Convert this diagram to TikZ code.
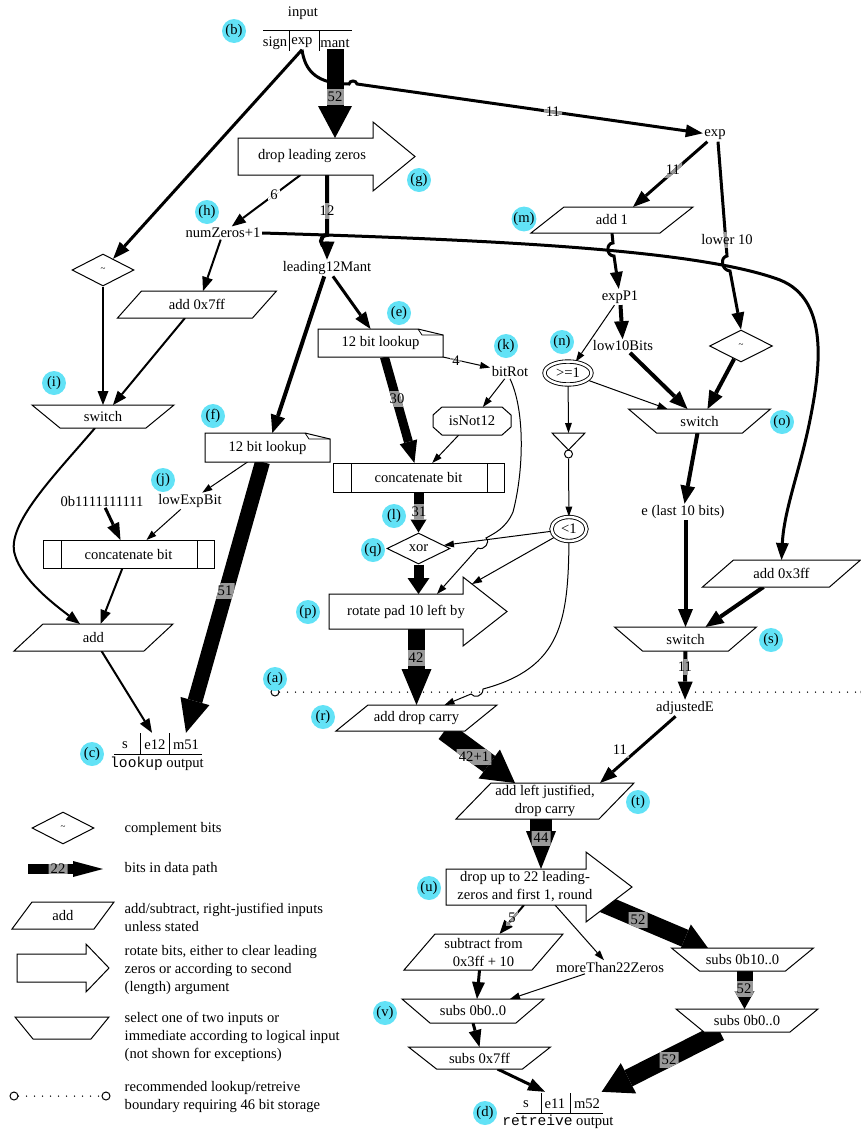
\documentclass[tikz,border=0pt]{standalone}
\usepackage{fontspec}
\setmainfont{Liberation Serif}
\setmonofont{Liberation Mono}
\usetikzlibrary{arrows.meta,shapes.geometric,calc}
\pgfdeclarelayer{edges}\pgfdeclarelayer{labels}\pgfdeclarelayer{shapes}
\pgfsetlayers{edges,labels,shapes,main}
\definecolor{lcyan}{RGB}{98,226,246}
\definecolor{labgray}{RGB}{153,153,153}
\newcommand\mfs{\fontsize{14.6pt}{18pt}\selectfont}
\newcommand\tfs{\fontsize{9pt}{10pt}\selectfont}
\tikzset{
 txt/.style={inner sep=1.5pt},
 shp/.style={inner sep=0pt, outer sep=0pt},
 outl/.style={line width=1pt, line join=miter},
 lc/.style={circle, fill=lcyan, inner sep=0pt, minimum size=24pt},
 lbl/.style={inner sep=2pt},
 smallc/.style={circle, draw, line width=1pt, fill=white, inner sep=0pt, minimum size=8pt},
 dotsl/.style={line width=1.5pt, line cap=round, dash pattern=on 0pt off 8pt},
 e1/.style={line width=1pt, -{Triangle[length=10pt,width=7pt,line width=0pt]}},
 e2/.style={line width=2pt, -{Triangle[length=14pt,width=11pt,line width=0pt]}},
 e3/.style={line width=3pt, -{Triangle[length=17pt,width=13pt,line width=0pt]}},
 e4/.style={line width=4pt, -{Triangle[length=18pt,width=15pt,line width=0pt]}},
 fat/.style n args={3}{line width=#1, -{Triangle[length=#2,width=#3,line width=0pt]}},
}
% edge with a label: [label colour]{style}{path}{label position}{text}
\newcommand\ledge[5][labgray]{%
 \begin{pgfonlayer}{edges}\draw[#2] #3;\end{pgfonlayer}%
 \begin{pgfonlayer}{labels}%
 \node[lbl] (lbtmp) at (#4) {\phantom{#5}};%
 \begin{scope}\clip (lbtmp.south west) rectangle (lbtmp.north east);
 \draw[#2, color=#1] #3;\end{scope}%
 \node[lbl] (lbtext) at (lbtmp) {#5};%
 \end{pgfonlayer}}
\newcommand\paraout[2]{\begin{pgfonlayer}{shapes}\draw[outl,fill=white] ([xshift=-#2]#1.south west) -- ([xshift=-#2]#1.south east) -- ([xshift=#2]#1.north east) -- ([xshift=#2]#1.north west) -- cycle;\end{pgfonlayer}}
\newcommand\swout[2]{\begin{pgfonlayer}{shapes}\draw[outl,fill=white] ([xshift=-#2]#1.north west) -- ([xshift=#2]#1.north east) -- ([xshift=-#2]#1.south east) -- ([xshift=#2]#1.south west) -- cycle;\end{pgfonlayer}}
\newcommand\arrowout[3]{\begin{pgfonlayer}{shapes}\draw[outl,fill=white] (#1.north west) -- (#1.north east) -- ([yshift=#2]#1.north east) -- ([xshift=#3]#1.east) -- ([yshift=-#2]#1.south east) -- (#1.south east) -- (#1.south west) -- cycle;\end{pgfonlayer}}
\newcommand\noteout[1]{\begin{pgfonlayer}{shapes}\draw[outl,fill=white] (#1.south west) -- (#1.north west) -- ([xshift=-25pt]#1.north east) -- ([yshift=-6pt]#1.north east) -- (#1.south east) -- cycle;
 \draw[line width=0.7pt] ([xshift=-25pt]#1.north east) -- ([xshift=-21pt,yshift=-6pt]#1.north east) -- ([yshift=-6pt]#1.north east);\end{pgfonlayer}}
\newcommand\concout[1]{\begin{pgfonlayer}{shapes}\draw[outl,fill=white] (#1.south west) rectangle (#1.north east);
 \draw[outl] ([xshift=18pt]#1.south west) -- ([xshift=18pt]#1.north west);
 \draw[outl] ([xshift=-17pt]#1.south east) -- ([xshift=-17pt]#1.north east);\end{pgfonlayer}}
\newcommand\octout[1]{\begin{pgfonlayer}{shapes}\draw[outl,fill=white] ([xshift=9pt]#1.north west) -- ([xshift=-9pt]#1.north east) -- ([yshift=-8pt]#1.north east) -- ([yshift=8pt]#1.south east) -- ([xshift=-9pt]#1.south east) -- ([xshift=9pt]#1.south west) -- ([yshift=8pt]#1.south west) -- ([yshift=-8pt]#1.north west) -- cycle;\end{pgfonlayer}}
\begin{document}
\begin{tikzpicture}[x=1pt,y=-1pt,font=\mfs]
\useasboundingbox (0,0) rectangle (861,1130);
% ---------- records
\node[txt] (intitle) at (303,13) {input};
\node[txt] (insign) at (275,43) {sign};
\node[txt] (inexp) at (302,43) {exp};
\node[txt] (inmant) at (335,43) {mant};
\draw[outl] (263,30) -- (352,30) (289,30) -- (289,51) (319,30) -- (319,51);
\node[txt,minimum height=24pt] (outs) at (125,745) {s};
\node[txt,minimum height=24pt] (oute12) at (155,745) {e12};
\node[txt,minimum height=24pt] (outm51) at (186,745) {m51};
\node[txt] (outlbl) at (157,764) {\texttt{lookup} output};
\draw[outl] (114,754) -- (202,754) (140,733) -- (140,754) (169,733) -- (169,754);
\node[txt,minimum height=24pt] (routs) at (526,1104) {s};
\node[txt,minimum height=24pt] (oute11) at (555,1104) {e11};
\node[txt,minimum height=24pt] (outm52) at (587,1104) {m52};
\node[txt] (routlbl) at (558,1122) {\texttt{retreive} output};
\draw[outl] (516,1113) -- (603,1113) (541,1093) -- (541,1113) (570,1093) -- (570,1113);
% ---------- left
\node[shp,minimum width=135pt,minimum height=37pt] (dlz) at (305.5,156.5) {}; \arrowout{dlz}{16pt}{42pt}
\node[txt] (dlzt) at (312,156) {drop leading zeros};
\node[draw,diamond,outl,minimum width=62pt,minimum height=32pt,inner sep=0pt] (ldia) at (103,270) {\tfs\textasciitilde};
\node[txt] (numz) at (223,233) {numZeros+1};
\node[txt] (l12) at (327,268) {leading12Mant};
\node[shp,minimum width=135pt,minimum height=27pt] (add7ff) at (197,304.5) {add 0x7ff}; \paraout{add7ff}{12pt}
\node[shp,minimum width=114pt,minimum height=23pt] (swi) at (103,416.5) {switch}; \swout{swi}{14pt}
\node[shp,minimum width=125pt,minimum height=29pt] (fnote) at (267.5,447.5) {12 bit lookup}; \noteout{fnote}
\node[txt] (zero) at (102,501) {0b1111111111};
\node[txt] (lowExp) at (190,501) {lowExpBit};
\node[shp,minimum width=171pt,minimum height=28pt] (concL) at (128.5,554) {concatenate bit}; \concout{concL}
\node[shp,minimum width=130pt,minimum height=27pt] (addL) at (93.5,637.5) {add}; \paraout{addL}{14.5pt}
% ---------- middle
\node[shp,minimum width=125pt,minimum height=28pt] (enote) at (380.5,343) {12 bit lookup}; \noteout{enote}
\node[txt] (bitRot) at (510,372) {bitRot};
\node[shp,minimum width=78pt,minimum height=28pt] (isn) at (472,421) {isNot12}; \octout{isn}
\node[shp,minimum width=171pt,minimum height=29pt] (concR) at (418.5,477.5) {concatenate bit}; \concout{concR}
\node[draw,diamond,outl,minimum width=63pt,minimum height=31pt,inner sep=0pt] (xor) at (418.5,548.5) {xor};
\node[shp,minimum width=134pt,minimum height=35pt] (rot) at (396,611.5) {}; \arrowout{rot}{17pt}{44pt}
\node[txt] (rott) at (406,612) {rotate pad 10 left by};
\coordinate (rotin) at (472,584);
\node[shp,minimum width=129pt,minimum height=26pt] (addDC) at (416.5,718) {add drop carry}; \paraout{addDC}{16pt}
\node[shp,minimum width=143pt,minimum height=36pt,align=center] (addLJ) at (545,801) {add left justified,\\drop carry}; \paraout{addLJ}{17.5pt}
\node[shp,minimum width=140pt,minimum height=36pt] (drop22) at (516,887) {}; \arrowout{drop22}{17pt}{46pt}
\node[txt,align=center] (drop22t) at (525,887) {drop up to 22 leading-\\zeros and first 1, round};
\coordinate (d22out) at (590,898);
\node[shp,minimum width=128pt,minimum height=36pt,align=center] (subtr) at (483.5,952) {subtract from\\0x3ff + 10}; \paraout{subtr}{15.5pt}
\node[txt] (more22) at (610,967) {moreThan22Zeros};
\node[shp,minimum width=114pt,minimum height=24pt] (subsV) at (473,1011) {subs 0b0..0}; \swout{subsV}{14pt}
\node[shp,minimum width=114pt,minimum height=22pt] (subs7ff) at (479.5,1058) {subs 0x7ff}; \swout{subs7ff}{14pt}
\node[shp,minimum width=114pt,minimum height=23pt] (subs10) at (742.5,959.5) {subs 0b10..0}; \swout{subs10}{14pt}
\node[shp,minimum width=114pt,minimum height=23pt] (subsR) at (747,1020.5) {subs 0b0..0}; \swout{subsR}{14pt}
% ---------- right
\node[txt] (exp) at (715,135) {exp};
\node[shp,minimum width=129pt,minimum height=26pt] (add1) at (612,220) {add 1}; \paraout{add1}{16.5pt}
\node[txt] (expP1) at (620,297) {expP1};
\node[txt] (low10) at (623,346) {low10Bits};
\node[ellipse,draw,double,double distance=2.5pt,line width=0.9pt,inner sep=0pt,minimum width=47pt,minimum height=23pt] (ge1) at (568,373) {>=1};
\node[draw,diamond,outl,minimum width=63pt,minimum height=32pt,inner sep=0pt] (rdia) at (741,346) {\tfs\textasciitilde};
\node[shp,minimum width=114pt,minimum height=24pt] (swo) at (699.5,421) {switch}; \swout{swo}{14pt}
\node[shp,minimum width=33pt,minimum height=17pt] (inv) at (568.5,441.5) {};
\draw[outl] (inv.north west) -- (inv.north east) -- (inv.south) -- cycle;
\node[circle,draw,outl,inner sep=0pt,minimum size=8pt] (invc) at (568.5,454) {};
\node[ellipse,draw,double,double distance=2.5pt,line width=0.9pt,inner sep=0pt,minimum width=35pt,minimum height=24pt] (lt1) at (569,529) {<1};
\node[txt] (elast) at (683,512) {e (last 10 bits)};
\node[shp,minimum width=127pt,minimum height=27pt] (add3ff) at (781.5,573.5) {add 0x3ff}; \paraout{add3ff}{15.5pt}
\node[shp,minimum width=114pt,minimum height=24pt] (sws) at (685.5,639) {switch}; \swout{sws}{14pt}
\node[txt] (adjE) at (685,708) {adjustedE};
\node[smallc] (bl) at (275,692) {};
\node[smallc] (br) at (865,692) {};
\coordinate (c44) at ([xshift=-4pt]addLJ.south);
\coordinate (c52) at ([xshift=2pt]subs10.south);
% ---------- plain edges
\begin{pgfonlayer}{edges}
\draw[dotsl] (bl) -- (br);
\draw[e3] (inexp.south) -- (ldia);
\draw[e3] (numz.east) .. controls (500,240) and (700,250) .. (780,280) .. controls (830,300) and (820,370) .. (810,420) .. controls (800,470) and (784,510) .. (add3ff.north);
\draw[e3] (l12) -- (enote);
\draw[e4] (l12) -- (fnote);
\draw[e1] (bitRot) -- (isn);
\draw[e1] (isn) -- (concR);
\draw[e1] (bitRot.south) .. controls (525,410) and (524,470) .. (513,512) .. controls (506,528) and (495,533) .. (486,538) .. controls (491,542) and (484,551) .. (478,548) -- ([xshift=41pt]rot.north);
\draw[fat={10pt}{16pt}{22pt}] (xor) -- (xor |- rot.north);
\draw[e1] (lt1) -- (xor);
\draw[e1] (lt1) -- (rotin);
\draw[e1] (lt1.south) .. controls (568,620) and (562,668) .. (483,689) .. controls (483,697) and (474,698) .. (471,694) -- ([xshift=28pt]addDC.north);
\draw[e3] (add1.south) -- (613,243) .. controls (606,243) and (606,256) .. (614,256) -- (expP1);
\draw[e4] (expP1) -- (low10);
\draw[e1] (expP1) -- (ge1);
\draw[e4] (low10) -- ([xshift=-12pt]swo.north);
\draw[e4] (rdia) -- ([xshift=8pt]swo.north);
\draw[e1] (ge1) -- ([xshift=-32pt]swo.north);
\draw[e1] (ge1) -- (inv.north);
\draw[e1] (invc) -- (lt1);
\draw[e4] ([xshift=-2pt]swo.south) -- (elast);
\draw[e4] (sws.north |- elast.south) -- (sws.north);
\draw[e4] ([xshift=-18pt]add3ff.south) -- ([xshift=20pt]sws.north);
\draw[e2] (ldia) -- (ldia |- swi.north);
\draw[e2] ([xshift=-12pt]add7ff.south) -- ([xshift=10pt]swi.north);
\draw[e2] (numz) -- ([xshift=6pt]add7ff.north);
\draw[e2] ([xshift=-8pt]swi.south) .. controls (55,475) and (5,525) .. (15,555) .. controls (22,580) and (55,605) .. ([xshift=-13.5pt]addL.north);
\draw[e3] (zero) -- ([xshift=-8pt]concL.north);
\draw[e1] (lowExp) -- ([xshift=18pt]concL.north);
\draw[e1] ([xshift=-20pt]fnote.south) -- (lowExp);
\draw[e2] ([xshift=-6pt]concL.south) -- ([xshift=7pt]addL.north);
\draw[e2] ([xshift=8pt]addL.south) -- ([xshift=-3pt]oute12.north);
\draw[e1] ([xshift=39pt]drop22.south) -- (more22);
\draw[e1] ([xshift=-25pt]more22.south) -- ([xshift=37pt]subsV.north);
\draw[e3] ([xshift=-4pt]subtr.south) -- ([xshift=4pt]subsV.north);
\draw[e3] (subsV.south) -- (subs7ff.north);
\draw[e3] ([xshift=18pt]subs7ff.south) -- ([xshift=-10pt]oute11.north);
\end{pgfonlayer}
% ---------- labelled edges
\ledge{e3}{(inexp.south) .. controls (305,72) and (318,84) .. (349,84) .. controls (350,80) and (356,80) .. (357,84) -- (exp)}{553,112}{11}
\ledge{fat={17pt}{32pt}{34pt}}{(inmant.south) -- (inmant.south |- dlz.north)}{335,97}{52}
\ledge{e4}{(dlz.south -| l12) -- (327,235) .. controls (319,235) and (319,247) .. (327,247) -- (l12)}{327,211}{12}
\ledge[white]{e2}{([xshift=-5pt]dlz.south) -- (numz)}{274,195}{6}
\ledge{fat={9pt}{22pt}{18pt}}{(enote) -- (concR)}{397,399}{30}
\ledge{e1}{(enote.south east) -- (bitRot)}{456,361}{4}
\ledge{fat={10pt}{13pt}{16pt}}{(concR) -- (xor)}{419,512}{31}
\ledge{fat={17pt}{36pt}{30pt}}{(addDC |- rot.south) -- (addDC.north)}{416,658}{42}
\ledge{fat={20pt}{32pt}{36pt}}{([xshift=28pt]addDC.south) -- ([xshift=-30pt]addLJ.north)}{474,757}{42+1}
\ledge{e3}{(adjE) -- ([xshift=55pt]addLJ.north)}{620,750}{11}
\ledge{fat={22pt}{38pt}{30pt}}{(c44) -- (c44 |- drop22.north)}{541,838}{44}
\ledge{e2}{([xshift=8pt]drop22.south) -- ([xshift=16pt]subtr.north)}{512,918}{5}
\ledge{fat={18pt}{25pt}{30pt}}{(d22out) -- ([xshift=-34.5pt]subs10.north)}{638,920}{52}
\ledge{fat={16pt}{18pt}{20pt}}{(c52) -- (c52 |- subsR.north)}{744,989}{52}
\ledge{fat={18pt}{30pt}{34pt}}{([xshift=-27pt]subsR.south) -- (outm52.north east)}{669,1060}{52}
\ledge{e3}{(exp) -- ([xshift=21pt]add1.north)}{673,170}{11}
\ledge{e3}{([xshift=3pt]exp.south) -- (727,256) .. controls (720,257) and (721,270) .. (730,271) -- (rdia.north)}{727,240}{lower 10}
\ledge{e4}{(sws) -- (adjE)}{685,667}{11}
\ledge{fat={15pt}{33pt}{30pt}}{([xshift=-5pt]fnote.south) -- (outm51.north)}{225,591}{51}
% ---------- letter circles
\node[lc] (la) at (275,679) {(a)};
\node[lc] (lb) at (234,31) {(b)};
\node[lc] (lcc) at (92,754) {(c)};
\node[lc] (ld) at (485,1113) {(d)};
\node[lc] (le) at (399,313) {(e)};
\node[lc] (lf) at (213,416) {(f)};
\node[lc] (lg) at (419,180) {(g)};
\node[lc] (lh) at (207,212) {(h)};
\node[lc] (li) at (54,383) {(i)};
\node[lc] (lj) at (163,480) {(j)};
\node[lc] (lk) at (506,346) {(k)};
\node[lc] (ll) at (394,516) {(l)};
\node[lc] (lm) at (524,219) {(m)};
\node[lc] (ln) at (562,342) {(n)};
\node[lc] (lo) at (782,422) {(o)};
\node[lc] (lp) at (308,612) {(p)};
\node[lc] (lq) at (373,550) {(q)};
\node[lc] (lr) at (323,717) {(r)};
\node[lc] (ls) at (771,640) {(s)};
\node[lc] (lt) at (638,802) {(t)};
\node[lc] (lu) at (429,888) {(u)};
\node[lc] (lv) at (385,1013) {(v)};
% ---------- legend
\node[draw,diamond,outl,minimum width=62pt,minimum height=32pt,inner sep=0pt] (lgdia) at (63,828) {\tfs\textasciitilde};
\node[txt,anchor=west] (lgt1) at (123,829) {complement bits};
\coordinate (lg2a) at (28,869);
\coordinate (lg2b) at (103,869);
\ledge{fat={10pt}{30pt}{16pt}}{(lg2a) -- (lg2b)}{58,869}{22}
\node[txt,anchor=west] (lgt2) at (123,869) {bits in data path};
\node[shp,minimum width=82pt,minimum height=27pt] (lgadd) at (63,915.5) {add}; \paraout{lgadd}{10pt}
\node[txt,anchor=west,align=left] (lgt3) at (123,917) {add/subtract, right-justified inputs\\unless stated};
\node[shp,minimum width=69pt,minimum height=28pt] (lgrot) at (51.5,968) {}; \arrowout{lgrot}{10pt}{23pt}
\node[txt,anchor=west,align=left] (lgt4) at (123,970) {rotate bits, either to clear leading\\zeros or according to second\\(length) argument};
\node[shp,minimum width=76pt,minimum height=22pt] (lgsw) at (62,1028) {}; \swout{lgsw}{9pt}
\node[txt,anchor=west,align=left] (lgt5) at (123,1037) {select one of two inputs or\\immediate according to logical input\\(not shown for exceptions)};
\node[smallc] (lgl) at (14,1096) {};
\node[smallc] (lgr) at (106,1096) {};
\begin{pgfonlayer}{edges}\draw[dotsl] (lgl) -- (lgr);\end{pgfonlayer}
\node[txt,anchor=west,align=left] (lgt6) at (123,1097) {recommended lookup/retreive\\boundary requiring 46 bit storage};
\end{tikzpicture}
\end{document}
